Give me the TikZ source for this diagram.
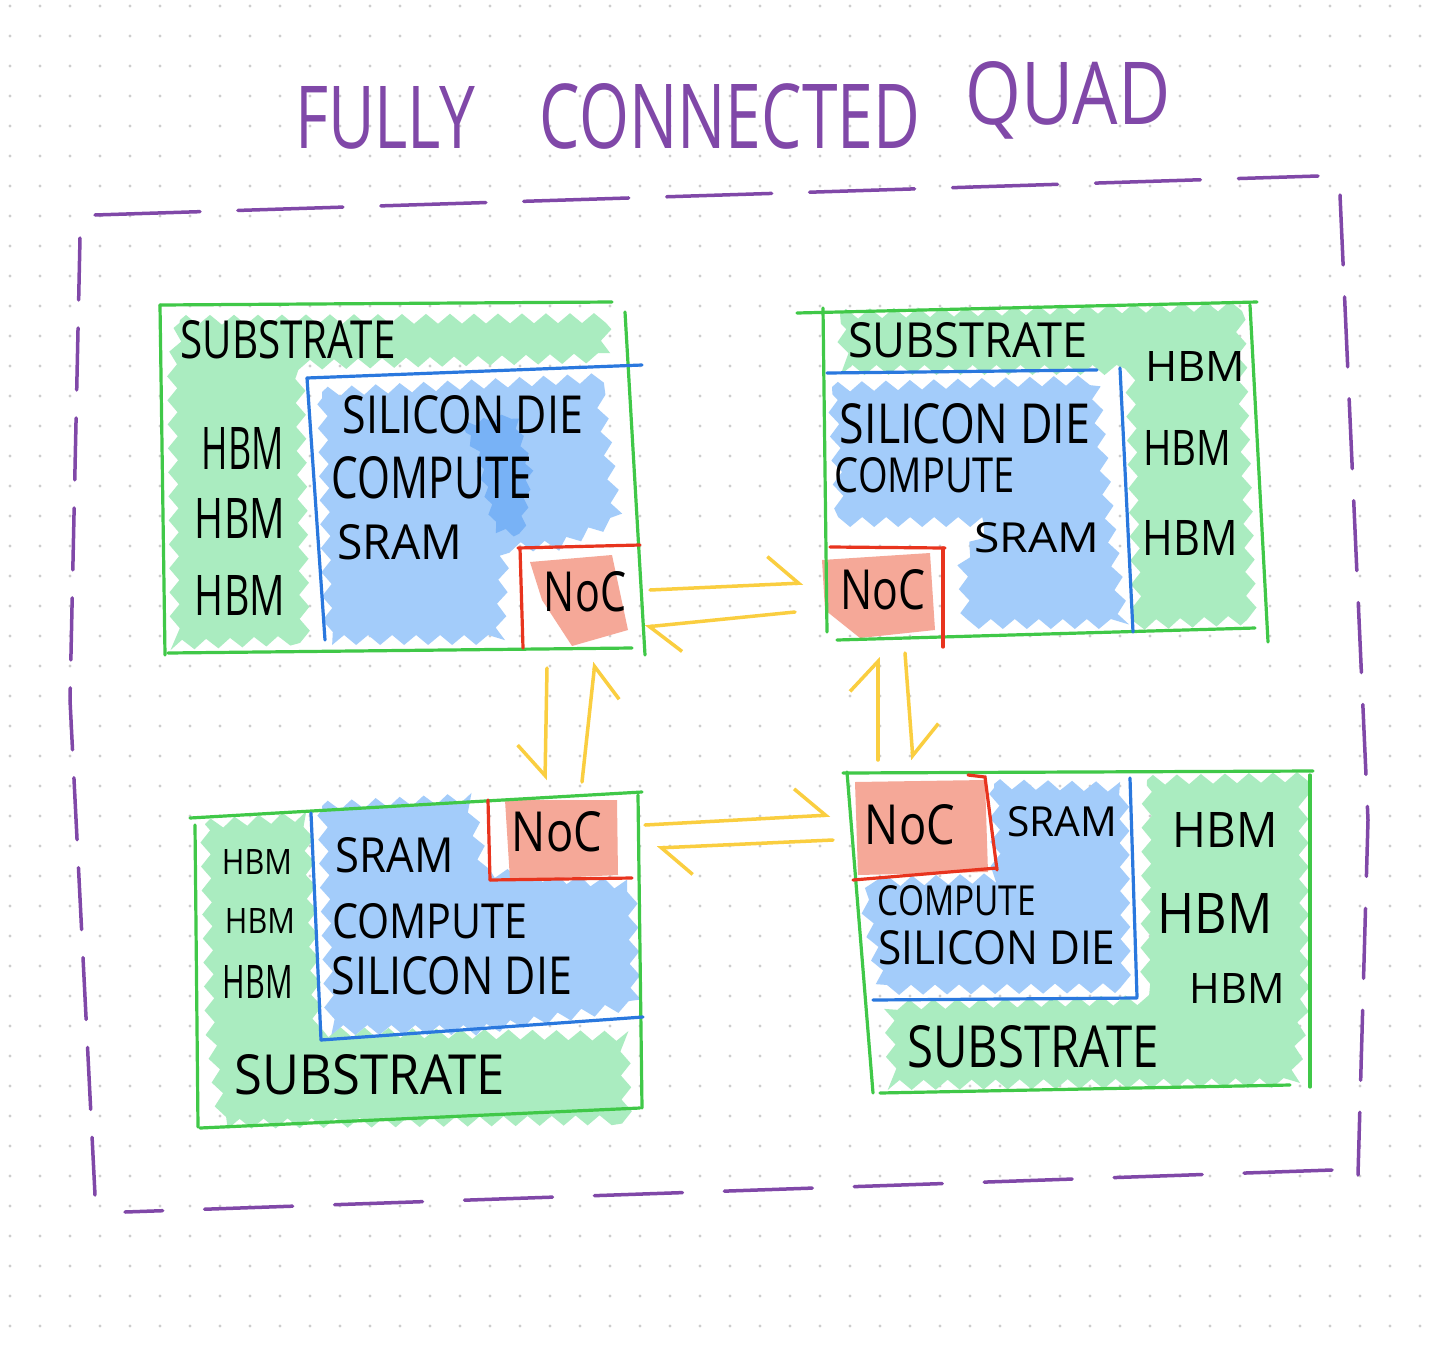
\documentclass[tikz,border=0pt]{standalone}
\usepackage{fontspec}
\setmainfont{Open Sans}
\usetikzlibrary{arrows.meta,decorations.pathmorphing}
\definecolor{gline}{RGB}{64,200,72}
\definecolor{gfill}{RGB}{170,236,192}
\definecolor{bline}{RGB}{42,120,222}
\definecolor{bfill}{RGB}{163,204,250}
\definecolor{bdark}{RGB}{120,178,246}
\definecolor{rline}{RGB}{232,52,30}
\definecolor{rfill}{RGB}{245,168,152}
\definecolor{yline}{RGB}{250,206,64}
\definecolor{pline}{RGB}{128,72,168}
\definecolor{dotc}{RGB}{205,205,205}
\newcommand{\lbl}[3]{\resizebox{#1pt}{#2pt}{#3}}
\begin{document}
\begin{tikzpicture}[x=1pt,y=-1pt,
  gstroke/.style={draw=gline,line width=3.2pt,line cap=round},
  bstroke/.style={draw=bline,line width=3.2pt,line cap=round},
  rstroke/.style={draw=rline,line width=3.2pt,line cap=round},
  blob/.style={decorate,decoration={zigzag,segment length=24pt,amplitude=5pt}},
  tx/.style={inner sep=0pt,text=black},
  ttl/.style={inner sep=0pt,text=pline},
  frame/.style={draw=pline,line width=3.5pt,line cap=round},
  link/.style={draw=yline,line width=3.5pt,line cap=round,line join=round},
  hl/.style={-{Straight Barb[left,length=30pt,width=56pt,line width=3.5pt]}},
  hr/.style={-{Straight Barb[right,length=30pt,width=56pt,line width=3.5pt]}}]
\useasboundingbox (0,0) rectangle (1430,1347);
\fill[white] (0,0) rectangle (1430,1347);
\foreach \i in {0,...,47}{\foreach \j in {0,...,44}{\fill[dotc] ({10+30*\i},{6+30*\j}) circle (1.7);}}

% title
\node[ttl] (t1) at (385,118) {\lbl{180}{62}{FULLY}};
\node[ttl] (t2) at (730,116) {\lbl{380}{65}{CONNECTED}};
\node[ttl] (t3) at (1068,100) {\lbl{205}{63}{QUAD}};

% outer dashed frame
\draw[frame,dash pattern=on 105pt off 38pt] (95,215) -- (1318,176);
\draw[frame,dash pattern=on 70pt off 32pt] (1340,195) -- (1368,820) -- (1358,1175);
\draw[frame,dash pattern=on 88pt off 42pt] (1332,1170) -- (125,1212);
\draw[frame,dash pattern=on 62pt off 28pt] (80,238) -- (70,700) -- (95,1195);

% ===== top-left chip
\fill[gfill,blob] (180,320) -- (607,318) -- (605,358) -- (300,365) -- (305,640) -- (175,645) -- (172,365) -- cycle;
\fill[bfill,blob] (322,392) -- (598,378) -- (618,520) -- (560,545) -- (505,548) -- (500,640) -- (328,640) -- cycle;
\fill[bdark,blob,decoration={segment length=18pt,amplitude=3pt}] (462,425) -- (515,415) -- (530,470) -- (522,535) -- (495,530) -- (478,455) -- cycle;
\fill[rfill] (530,562) -- (612,555) -- (628,630) -- (572,646) -- (542,600) -- cycle;
\draw[gstroke] (160,305) -- (612,302);
\draw[gstroke] (160,305) -- (165,655);
\draw[gstroke] (168,653) -- (632,648);
\draw[gstroke] (625,312) -- (645,655);
\draw[bstroke] (307,378) -- (642,365);
\draw[bstroke] (307,378) -- (325,640);
\draw[rstroke] (518,548) -- (640,545);
\draw[rstroke] (520,548) -- (523,648);
\node[tx] (tlsub) at (288,340) {\lbl{215}{38}{SUBSTRATE}};
\node[tx] (tlh1) at (243,448) {\lbl{82}{42}{HBM}};
\node[tx] (tlh2) at (240,518) {\lbl{90}{40}{HBM}};
\node[tx] (tlh3) at (240,595) {\lbl{90}{40}{HBM}};
\node[tx] (tldie) at (463,415) {\lbl{240}{38}{SILICON DIE}};
\node[tx] (tlcomp) at (432,478) {\lbl{200}{42}{COMPUTE}};
\node[tx] (tlsram) at (400,542) {\lbl{125}{35}{SRAM}};
\node[tx] (tlnoc) at (585,592) {\lbl{82}{40}{NoC}};

% ===== top-right chip
\fill[gfill,blob] (840,314) -- (1240,306) -- (1252,620) -- (1137,625) -- (1130,370) -- (845,370) -- cycle;
\fill[bfill,blob] (832,387) -- (1095,380) -- (1110,520) -- (1124,624) -- (966,624) -- (962,560) -- (990,522) -- (840,522) -- cycle;
\fill[rfill] (822,560) -- (930,553) -- (935,630) -- (860,638) -- (825,610) -- cycle;
\draw[gstroke] (797,313) -- (1257,302);
\draw[gstroke] (823,308) -- (827,632);
\draw[gstroke] (1250,305) -- (1268,642);
\draw[gstroke] (837,640) -- (1255,628);
\draw[bstroke] (827,373) -- (1097,370);
\draw[bstroke] (1120,368) -- (1133,632);
\draw[rstroke] (830,547) -- (945,548);
\draw[rstroke] (943,548) -- (943,647);
\node[tx] (trsub) at (968,340) {\lbl{240}{35}{SUBSTRATE}};
\node[tx] (trh1) at (1195,366) {\lbl{100}{30}{HBM}};
\node[tx] (trh2) at (1187,448) {\lbl{88}{35}{HBM}};
\node[tx] (trh3) at (1190,538) {\lbl{95}{35}{HBM}};
\node[tx] (trdie) at (965,424) {\lbl{250}{40}{SILICON DIE}};
\node[tx] (trcomp) at (925,475) {\lbl{180}{35}{COMPUTE}};
\node[tx] (trsram) at (1037,538) {\lbl{125}{30}{SRAM}};
\node[tx] (trnoc) at (883,590) {\lbl{85}{40}{NoC}};

% ===== bottom-left chip
\fill[gfill,blob] (205,824) -- (308,816) -- (318,1032) -- (625,1036) -- (627,1120) -- (222,1124) -- (210,1030) -- cycle;
\fill[bfill,blob] (322,806) -- (470,798) -- (485,872) -- (632,885) -- (636,1005) -- (480,1030) -- (330,1030) -- cycle;
\fill[rfill] (505,800) -- (617,800) -- (618,875) -- (510,880) -- cycle;
\draw[gstroke] (190,818) -- (642,792);
\draw[gstroke] (195,825) -- (198,1127);
\draw[gstroke] (200,1128) -- (640,1108);
\draw[gstroke] (638,795) -- (642,1108);
\draw[bstroke] (311,813) -- (321,1040);
\draw[bstroke] (321,1040) -- (643,1017);
\draw[rstroke] (488,800) -- (490,880);
\draw[rstroke] (490,880) -- (632,878);
\node[tx] (blh1) at (257,862) {\lbl{70}{25}{HBM}};
\node[tx] (blh2) at (260,921) {\lbl{70}{25}{HBM}};
\node[tx] (blh3) at (258,982) {\lbl{70}{33}{HBM}};
\node[tx] (blsram) at (395,855) {\lbl{118}{35}{SRAM}};
\node[tx] (blcomp) at (430,921) {\lbl{195}{35}{COMPUTE}};
\node[tx] (bldie) at (452,976) {\lbl{240}{38}{SILICON DIE}};
\node[tx] (blsub) at (370,1075) {\lbl{270}{40}{SUBSTRATE}};
\node[tx] (blnoc) at (557,832) {\lbl{90}{40}{NoC}};

% ===== bottom-right chip
\fill[gfill,blob] (1147,780) -- (1303,777) -- (1305,1000) -- (1295,1083) -- (892,1085) -- (889,1005) -- (1145,1000) -- cycle;
\fill[bfill,blob] (994,784) -- (1124,787) -- (1126,988) -- (882,990) -- (865,905) -- (872,882) -- (996,878) -- cycle;
\fill[rfill] (855,782) -- (985,780) -- (988,872) -- (858,875) -- cycle;
\draw[gstroke] (843,773) -- (1313,771);
\draw[gstroke] (847,772) -- (873,1093);
\draw[gstroke] (880,1093) -- (1290,1085);
\draw[gstroke] (1310,775) -- (1310,1087);
\draw[bstroke] (1130,778) -- (1137,997);
\draw[bstroke] (873,1000) -- (1137,998);
\draw[rstroke] (968,775) -- (985,777) -- (997,870);
\draw[rstroke] (853,880) -- (997,868);
\node[tx] (brnoc) at (910,825) {\lbl{90}{40}{NoC}};
\node[tx] (brsram) at (1062,822) {\lbl{110}{30}{SRAM}};
\node[tx] (brcomp) at (957,901) {\lbl{158}{30}{COMPUTE}};
\node[tx] (brdie) at (997,948) {\lbl{237}{34}{SILICON DIE}};
\node[tx] (brh1) at (1225,830) {\lbl{105}{35}{HBM}};
\node[tx] (brh2) at (1215,913) {\lbl{115}{40}{HBM}};
\node[tx] (brh3) at (1237,988) {\lbl{95}{30}{HBM}};
\node[tx] (brsub) at (1033,1047) {\lbl{252}{42}{SUBSTRATE}};

% ===== links between NoCs
\coordinate (a1s) at (650,590); \coordinate (a1e) at (803,583);
\coordinate (a2s) at (795,612); \coordinate (a2e) at (645,627);
\coordinate (a3s) at (547,668); \coordinate (a3e) at (545,780);
\coordinate (a4s) at (582,782); \coordinate (a4e) at (595,662);
\coordinate (a5s) at (878,760); \coordinate (a5e) at (878,657);
\coordinate (a6s) at (905,653); \coordinate (a6e) at (913,760);
\coordinate (a7s) at (645,825); \coordinate (a7e) at (830,815);
\coordinate (a8s) at (833,840); \coordinate (a8e) at (657,848);
\draw[link,hl] (a1s) -- (a1e);
\draw[link,hl] (a2s) -- (a2e);
\draw[link,hr] (a3s) -- (a3e);
\draw[link,hr] (a4s) -- (a4e);
\draw[link,hl] (a5s) -- (a5e);
\draw[link,hl] (a6s) -- (a6e);
\draw[link,hl] (a7s) -- (a7e);
\draw[link,hl] (a8s) -- (a8e);
\end{tikzpicture}
\end{document}
